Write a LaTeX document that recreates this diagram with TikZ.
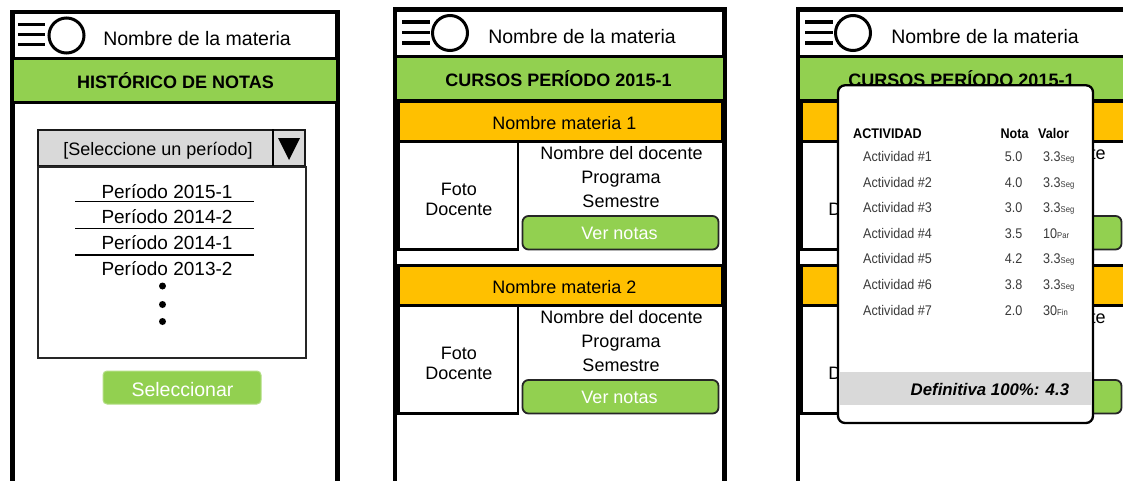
\documentclass[tikz,border=0pt]{standalone}
\usepackage{fontspec}
\setmainfont{Liberation Sans}
\newfontfamily\popfont[FakeStretch=0.9]{Liberation Sans}
\definecolor{mgreen}{HTML}{92D050}
\definecolor{morange}{HTML}{FFC000}
\definecolor{mgray}{HTML}{D9D9D9}
\definecolor{rowtxt}{HTML}{3A3A3A}
\newif\ifshowhidden
\showhiddentrue
\tikzset{
  frameline/.style={line width=4.5pt},
  hdrline/.style={line width=3pt},
  burger/.style={line width=3.3pt},
  ring/.style={line width=3pt},
  lbl/.style={inner sep=0pt, anchor=base},
  f18/.style={lbl, font=\fontsize{18}{21}\selectfont},
  f19/.style={lbl, font=\fontsize{19}{22}\selectfont},
  f195/.style={lbl, font=\fontsize{19.5}{23}\selectfont},
  hdr/.style={lbl, font=\fontsize{18}{21}\selectfont\bfseries},
  greenbar/.style={fill=mgreen, draw=black, line width=3pt, inner sep=0pt},
  orangebar/.style={fill=morange, draw=black, line width=2.5pt, inner sep=0pt},
  cellbox/.style={draw=black, line width=2.5pt, inner sep=0pt},
  btn/.style={fill=mgreen, draw=black!85, line width=1.8pt, rounded corners=6pt, inner sep=0pt},
  btntxt/.style={f18, text=white},
  pop/.style={lbl, font=\popfont\fontsize{14}{16}\selectfont},
  pophd/.style={lbl, font=\popfont\fontsize{14}{16}\selectfont\bfseries},
  rowlbl/.style={pop, text=rowtxt},
}
\newcommand\courseblock[2]{%
  \node[orangebar, minimum width=323.5pt, minimum height=40pt] (#1bar) at (560.25,121.3) {};
  \node[cellbox, minimum width=119.5pt, minimum height=108pt] (#1foto) at (458.25,195.3) {};
  \node[f18] (#1fb) at (458.8,215) {Docente};
  \node[f18] (#1doc) at (621.5,159.3) {Nombre del docente};
  \node[btn, minimum width=196pt, minimum height=33.5pt] (#1btn) at (620.5,232.75) {};
  \ifshowhidden
    \node[f18] (#1mat) at (564.5,129) {#2};
    \node[f18] (#1fa) at (458.8,195) {Foto};
    \node[f18] (#1prog) at (621,183.5) {Programa};
    \node[f18] (#1sem) at (621,207.5) {Semestre};
    \node[btntxt] (#1ver) at (619.5,239.3) {Ver notas};
  \fi
}
\newcommand\cursosscreen[1]{%
  \draw[frameline] (395,495) -- (395,9.5) -- (724.5,9.5) -- (724.5,495);
  \draw[hdrline] (395,56.5) -- (724.5,56.5);
  \node[greenbar, minimum width=329.5pt, minimum height=44pt] (#1bar) at (559.75,78.5) {};
  \node[hdr] (#1title) at (558.5,86) {CURSOS PERÍODO 2015-1};
  \draw[burger] (402,22) -- (430,22) (402,32.5) -- (430,32.5) (402,43) -- (430,43);
  \draw[ring] (450,33) circle[radius=17.5pt];
  \node[f195] (#1name) at (582,43.3) {Nombre de la materia};
  \courseblock{#1a}{Nombre materia 1}
  \begin{scope}[shift={(0,164)}]
    \courseblock{#1b}{Nombre materia 2}
  \end{scope}
}
\begin{document}
\begin{tikzpicture}[x=1pt,y=-1pt]
\useasboundingbox (0,0) rectangle (1123,480);
\fill[white] (0,0) rectangle (1123,480);
\clip (0,0) rectangle (1123,480);

% ---------- screen 1 ----------
\draw[frameline] (12.5,495) -- (12.5,12) -- (337.5,12) -- (337.5,495);
\draw[hdrline] (12.5,58.5) -- (337.5,58.5);
\node[greenbar, minimum width=325pt, minimum height=43.5pt] (s1bar) at (175,80.25) {};
\node[hdr] (s1title) at (175.5,88.3) {HISTÓRICO DE NOTAS};
\draw[burger] (18,24.5) -- (45,24.5) (18,34.5) -- (45,34.5) (18,44.5) -- (45,44.5);
\draw[ring] (66.5,35.5) circle[radius=17.5pt];
\node[f195] (s1name) at (197,45.7) {Nombre de la materia};

\node[draw=black!90, fill=mgray, line width=2pt, inner sep=0pt, minimum width=267.5pt, minimum height=36pt] (s1drop) at (171.25,148) {};
\draw[line width=2pt] (s1drop.north west -| 273,0) -- (s1drop.south west -| 273,0);
\fill (278,138) -- (300,138) -- (289,160) -- cycle;
\node[f18] (s1sel) at (158,155.5) {[Seleccione un período]};
\node[draw=black!85, line width=2pt, inner sep=0pt, minimum width=268pt, minimum height=191pt] (s1list) at (171.5,262) {};
\node[f19] (p1) at (167,198) {Período 2015-1};
\node[f19] (p2) at (167,223.7) {Período 2014-2};
\node[f19] (p3) at (167,249.4) {Período 2014-1};
\node[f19] (p4) at (167,275) {Período 2013-2};
\draw[line width=1.8pt] (75,201.5) -- (254,201.5) (75,228.5) -- (254,228.5) (75,255) -- (254,255);
\fill (162.5,286) circle[radius=3.5pt] (162.5,304.5) circle[radius=3.5pt] (162.5,321.5) circle[radius=3.5pt];
\node[fill=mgreen, draw=mgreen!70!white, line width=1pt, rounded corners=4pt, inner sep=0pt, minimum width=158pt, minimum height=33pt] (s1btn) at (182,387.5) {};
\node[f195, text=white] (s1btntxt) at (182.5,396.7) {Seleccionar};

% ---------- screen 2 ----------
\cursosscreen{s2}

% ---------- screen 3 (texts hidden by the popup are left out) ----------
\showhiddenfalse
\begin{scope}[shift={(403,0)}]
  \cursosscreen{s3}
\end{scope}

% popup
\node[draw=black, fill=white, line width=2.3pt, rounded corners=7pt, inner sep=0pt, minimum width=255pt, minimum height=337.7pt] (pop) at (965.5,254.15) {};
\node[fill=mgray, inner sep=0pt, minimum width=252.5pt, minimum height=33.3pt] (popbar) at (965.25,388.35) {};
\node[lbl, font=\fontsize{16.8}{20}\selectfont\bfseries\itshape, anchor=base east] (def) at (1069.3,395) {Definitiva 100\%: 4.3};
\node[pophd, anchor=base west] (hact) at (853,138.3) {ACTIVIDAD};
\node[pophd] (hnota) at (1014.5,138.3) {Nota};
\node[pophd, anchor=base west] (hval) at (1038,138.3) {Valor};
\foreach \i/\nota/\val/\suf in {1/5.0/3.3/Seg, 2/4.0/3.3/Seg, 3/3.0/3.3/Seg, 4/3.5/10/Par, 5/4.2/3.3/Seg, 6/3.8/3.3/Seg, 7/2.0/30/Fin}{
  \pgfmathsetmacro\yy{161.7+25.55*(\i-1)}
  \node[rowlbl, anchor=base west] (act\i) at (863,\yy) {Actividad \#\i};
  \node[rowlbl] (nota\i) at (1013.5,\yy) {\nota};
  \node[rowlbl, anchor=base west] (val\i) at (1043,\yy) {\val{\fontsize{8.5}{10}\selectfont\suf}};
}
\end{tikzpicture}
\end{document}
